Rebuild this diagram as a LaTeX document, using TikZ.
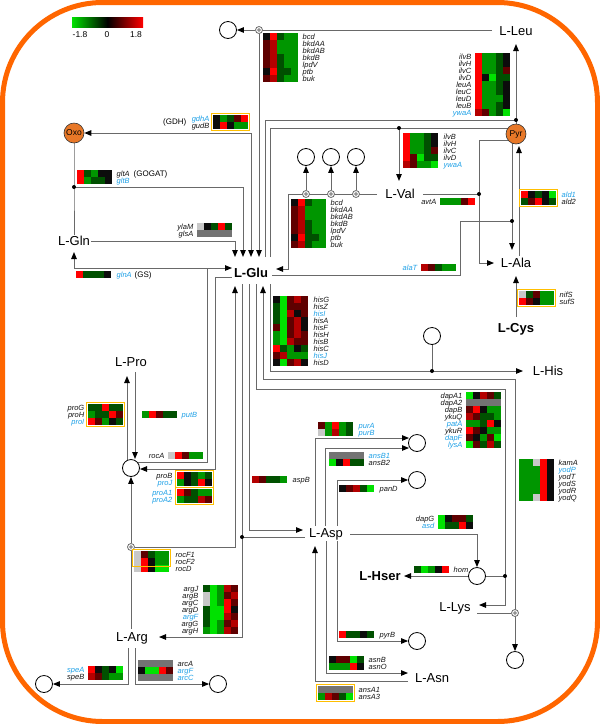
\documentclass[tikz,border=0pt]{standalone}
\usepackage{fontspec}
\setmainfont{Liberation Sans}
\usetikzlibrary{arrows.meta}
\pgfdeclarelayer{bg}
\pgfsetlayers{bg,main}
\definecolor{hcG}{RGB}{0,225,0}
\definecolor{hcg}{RGB}{0,150,0}
\definecolor{hcd}{RGB}{0,80,0}
\definecolor{hck}{RGB}{12,12,12}
\definecolor{hcm}{RGB}{95,0,0}
\definecolor{hcr}{RGB}{180,0,0}
\definecolor{hcR}{RGB}{255,0,0}
\definecolor{hcL}{RGB}{200,200,200}
\definecolor{hcD}{RGB}{115,115,115}
\definecolor{gck}{RGB}{20,20,20}
\definecolor{gcb}{RGB}{30,160,230}
\definecolor{frameor}{RGB}{255,102,0}
\definecolor{metor}{RGB}{232,120,40}
\definecolor{boxy}{RGB}{255,190,0}
\definecolor{lncol}{RGB}{105,105,105}
\newcommand\hmap[3]{%
  \foreach \hrow [count=\hri] in {#3}{%
    \foreach \hcell [count=\hcj] in \hrow{%
      \fill[fill=hc\hcell] ({#1+(\hcj-1)*7},{#2+(\hri-1)*7}) rectangle ++(7.05,7.05);
    }%
  }%
}
\newcommand\hlab[4]{%
  \foreach \glc/\glt [count=\gli] in {#4}{%
    \node[glab, text=gc\glc, anchor=#3] at (#1,{#2+(\gli-1)*7+3.5}) {\glt};
  }%
}
\tikzset{
  lnk/.style={draw=lncol, line width=1pt},
  arr/.style={lnk, -{Triangle[length=7pt,width=5.5pt,color=black]}},
  arrb/.style={lnk, {Triangle[length=7pt,width=5.5pt,color=black]}-{Triangle[length=7pt,width=5.5pt,color=black]}},
  mlab/.style={font=\fontsize{13}{15}\selectfont, text height=9.3pt, text depth=0pt, inner sep=1pt},
  blab/.style={font=\fontsize{13}{15}\selectfont\bfseries, text height=9.3pt, text depth=0pt, inner sep=1pt},
  glab/.style={font=\fontsize{7.5}{8}\selectfont\itshape, text height=5.4pt, text depth=0pt, inner sep=0.5pt},
  slab/.style={font=\fontsize{8}{9}\selectfont, text height=5.8pt, text depth=0pt, inner sep=0.5pt},
  circ/.style={circle, draw=black, fill=white, line width=0.8pt, minimum size=17pt, inner sep=0pt},
  metab/.style={circle, draw=black!80, fill=metor, line width=0.6pt, minimum size=20pt, inner sep=0pt, font=\fontsize{8.5}{9}\selectfont},
  junc/.style={circle, draw=lncol, fill=white, line width=0.8pt, minimum size=7pt, inner sep=0pt,
    path picture={\draw[lncol, line width=0.6pt] (path picture bounding box.center) circle (1.4pt);}},
  dotn/.style={circle, fill=black, minimum size=4pt, inner sep=0pt},
  ybox/.style={draw=boxy, line width=1.6pt},
}
\begin{document}
\begin{tikzpicture}[x=1pt,y=-1pt]
\useasboundingbox (0,0) rectangle (600,724);
\draw[frameor, line width=5pt, rounded corners=100pt] (2.5,2.5) rectangle (597.5,721.5);
% colour bar
\shade[left color=hcG, right color=hcR, middle color=black] (72,17) rectangle (143,27);
\node[slab, font=\fontsize{8.5}{9}\selectfont] (cb1) at (80,35) {-1.8};
\node[slab, font=\fontsize{8.5}{9}\selectfont] (cb2) at (107,35) {0};
\node[slab, font=\fontsize{8.5}{9}\selectfont] (cb3) at (136,35) {1.8};
% main metabolites
\node[mlab] (leu) at (516,31) {L-Leu};
\node[blab] (glu) at (251,273) {L-Glu};
\node[mlab] (gln) at (74,241) {L-Gln};
\node[mlab] (val) at (400,194) {L-Val};
\node[mlab] (ala) at (516,263) {L-Ala};
\node[blab] (cys) at (516,328) {L-Cys};
\node[mlab] (pro) at (131,362) {L-Pro};
\node[mlab] (his) at (548,371) {L-His};
\node[mlab] (asp) at (326,533) {L-Asp};
\node[blab] (hser) at (380,576) {L-Hser};
\node[mlab] (lys) at (455,607) {L-Lys};
\node[mlab] (arg) at (132,637) {L-Arg};
\node[mlab] (asn) at (432,678) {L-Asn};
\node[metab] (oxo) at (74,133) {Oxo};
\node[metab] (pyr) at (516,134) {Pyr};
% open circles
\node[circ] (c1) at (228,30) {};
\node[circ] (cv1) at (306,157) {};
\node[circ] (cv2) at (331,157) {};
\node[circ] (cv3) at (356,157) {};
\node[circ] (chis) at (432,336) {};
\node[circ] (cfum) at (417,443) {};
\node[circ] (cbal) at (417,480) {};
\node[circ] (chom) at (477,576) {};
\node[circ] (cpyr) at (417,641) {};
\node[circ] (clys) at (515,660) {};
\node[circ] (cpro) at (131,468) {};
\node[circ] (carc) at (218,684) {};
\node[circ] (cspe) at (44,684) {};
% junctions and dots
\node[junc] (j1) at (259,30) {};
\node[junc] (jv1) at (306,194) {};
\node[junc] (jv2) at (331,194) {};
\node[junc] (jv3) at (356,194) {};
\node[junc] (jlys) at (515,613) {};
\node[junc] (jarg) at (131,547) {};
\node[dotn] (d1) at (516,120) {};
\node[dotn] (d2) at (399,128) {};
\node[dotn] (d3) at (479,194) {};
\node[dotn] (d4) at (512,221) {};
\node[dotn] (d5) at (74,187) {};
\node[dotn] (d6) at (432,371) {};
\node[dotn] (d7) at (505,576) {};
\node[dotn] (d8) at (242,537) {};
\begin{pgfonlayer}{bg}
% Leu / top
\draw[lnk] (492,30) -- (j1.center);
\draw[arr] (j1) -- (c1);
\draw[arr] (j1) -- (259,257);
\draw[arrb] (oxo) -- (251,133) -- (251,257);
\draw[lnk] (oxo) -- (d5.center) -- (gln);
\draw[arr] (d5.center) -- (243,187) -- (243,257);
\draw[arr] (gln.east) -- (235,241) -- (235,257);
\draw[arr] (207,268) -- (74,268) -- (74,252);
\draw[arr] (131,462) -- (207,462) -- (207,268) -- (232,268);
\draw[arr] (232,277) -- (215,277) -- (215,469) -- (140,469);
\draw[arr] (jarg) -- (235,547) -- (235,286);
\draw[arr] (242,284) -- (242,637) -- (159,637);
\draw[lnk] (d8.center) -- (305,537);
\draw[arr] (249,284) -- (249,530) -- (303,530);
\draw[arr] (256,284) -- (256,389) -- (505,389) -- (505,605) -- (479,605);
\draw[arrb] (263,286) -- (263,379) -- (515,379) -- (clys);
\draw[arr] (270,284) -- (270,371) -- (523,371);
\draw[lnk] (d6.center) -- (chis);
\draw[lnk] (477,613) -- (jlys);
\draw[arr] (350,534) -- (477,534) -- (chom);
\draw[arr] (chom) -- (404,576);
\draw[lnk] (chom) -- (d7.center);
\draw[arr] (315,526) -- (315,438) -- (409,438);
\draw[arr] (325,526) -- (325,448) -- (409,448);
\draw[arr] (337,526) -- (337,480) -- (cbal);
\draw[arr] (326,541) -- (326,673) -- (408,673);
\draw[arr] (337,541) -- (337,641) -- (cpyr);
\draw[arr] (408,681) -- (315,681) -- (315,546);
% Val
\draw[arr] (377,194) -- (288,194) -- (288,269) -- (276,269);
\draw[arr] (jv1) -- (cv1);
\draw[arr] (jv2) -- (cv2);
\draw[arr] (jv3) -- (cv3);
\draw[lnk] (423,194) -- (d3.center);
\draw[arr] (510,140) -- (479,140) -- (479,263) -- (494,263);
\draw[arr] (510,128) -- (399,128) -- (399,181);
\draw[lnk] (270,257) -- (270,128) -- (d2.center);
\draw[lnk] (265,257) -- (265,120) -- (d1.center);
\draw[arr] (516,130) -- (516,44);
\draw[arr] (512,140) -- (512,250);
\draw[arr] (519,256) -- (519,146);
\draw[lnk] (272,275) -- (460,275) -- (460,221) -- (d4.center);
\draw[arr] (516,317) -- (516,276);
% Pro / Arg
\draw[arr] (127,462) -- (127,376);
\draw[arr] (135,372) -- (135,459);
\draw[arr] (jarg) -- (cpro);
\draw[lnk] (131,629) -- (jarg);
\draw[arr] (128,648) -- (128,684) -- (cspe);
\draw[arr] (135,648) -- (135,684) -- (carc);
\end{pgfonlayer}
% heat maps
\hmap{263}{33}{{k,R,d,g,g},{m,r,g,g,g},{m,r,g,g,g},{m,r,d,g,g},{m,r,d,g,g},{k,R,d,d,g},{m,r,d,g,g}}
\hlab{302}{33}{west}{k/bcd,k/bkdAA,k/bkdAB,k/bkdB,k/lpdV,k/ptb,k/buk}
\hmap{475}{53}{{R,g,g,d,k},{R,g,g,d,k},{R,g,g,d,m},{R,k,G,d,d},{R,g,g,d,k},{R,g,g,d,k},{R,g,g,g,k},{R,g,g,d,k},{r,m,g,d,G}}
\hlab{472}{53}{east}{k/ilvB,k/ilvH,k/ilvC,k/ilvD,k/leuA,k/leuC,k/leuD,k/leuB,b/ywaA}
\hmap{403}{133}{{R,g,g,d,k},{R,g,g,d,k},{R,g,g,d,m},{R,m,G,d,d},{r,m,g,g,G}}
\hlab{443}{133}{west}{k/ilvB,k/ilvH,k/ilvC,k/ilvD,b/ywaA}
\hmap{291}{199}{{k,R,d,g,g},{m,r,g,g,g},{m,r,g,g,g},{m,r,d,g,g},{m,r,d,g,g},{k,R,d,d,g},{m,r,d,g,g}}
\hlab{330}{199}{west}{k/bcd,k/bkdAA,k/bkdAB,k/bkdB,k/lpdV,k/ptb,k/buk}
\hmap{213}{115}{{k,g,d,m,R},{k,R,k,g,g}}
\draw[ybox] (211.5,113.5) rectangle (249.5,130.5);
\hlab{210}{115}{east}{b/gdhA,k/gudB}
\node[slab, anchor=east] (gdhlab) at (187,122) {(GDH)};
\hmap{77}{170}{{R,d,g,k,k},{R,g,d,d,k}}
\hlab{116}{170}{west}{k/gltA,b/gltB}
\node[slab, anchor=west] (gogatlab) at (133,173.5) {(GOGAT)};
\hmap{197}{223}{{L,k,d,R,d},{D,D,D,D,D}}
\hlab{194}{223}{east}{k/ylaM,k/glsA}
\hmap{76}{271}{{R,d,d,d,k}}
\hlab{116}{271}{west}{b/glnA}
\node[slab, anchor=west] (gslab) at (134,274.5) {(GS)};
\hmap{521}{191}{{R,k,d,k,G},{d,m,R,k,d}}
\draw[ybox] (519.5,189.5) rectangle (557.5,206.5);
\hlab{561}{191}{west}{b/ald1,k/ald2}
\hmap{440}{198}{{g,g,g,m,R}}
\hlab{437}{198}{east}{k/avtA}
\hmap{421}{264}{{r,m,d,g,g}}
\hlab{418}{264}{east}{b/alaT}
\hmap{519}{291}{{L,d,m,g,g},{R,m,k,g,g}}
\draw[ybox] (517.5,289.5) rectangle (555.5,306.5);
\hlab{559}{291}{west}{k/nifS,k/sufS}
\hmap{273}{296}{{k,G,m,r,m},{d,G,m,m,m},{d,G,r,k,m},{d,G,m,r,k},{m,G,m,r,k},{g,G,m,r,m},{g,G,r,m,m},{R,d,g,k,d},{m,r,g,g,g},{k,G,m,r,k}}
\hlab{313}{296}{west}{k/hisG,k/hisZ,b/hisI,k/hisA,k/hisF,k/hisH,k/hisB,k/hisC,b/hisJ,k/hisD}
\hmap{466}{392}{{G,k,r,m,d},{D,D,D,D,D},{m,R,k,g,g},{r,m,d,d,g},{g,g,d,R,k},{R,m,k,g,g},{m,k,g,m,G},{G,m,d,r,d}}
\hlab{463}{392}{east}{k/dapA1,k/dapA2,k/dapB,k/ykuQ,b/patA,k/ykuR,b/dapF,b/lysA}
\hmap{519}{459}{{g,g,L,R,k},{g,g,g,R,k},{g,g,g,R,k},{g,g,g,R,k},{g,g,g,R,k},{g,g,L,R,k}}
\hlab{558}{459}{west}{k/kamA,b/yodP,k/yodT,k/yodS,k/yodR,k/yodQ}
\hmap{318}{422}{{m,g,R,g,d},{L,g,r,g,d}}
\hlab{358}{422}{west}{b/purA,b/purB}
\hmap{329}{452}{{D,D,D,D,D},{G,k,R,d,d}}
\hlab{368}{452}{west}{b/ansB1,k/ansB2}
\hmap{339}{485}{{k,m,r,d,G}}
\hlab{379}{485}{west}{k/panD}
\hmap{252}{476}{{r,m,d,d,g}}
\hlab{292}{476}{west}{k/aspB}
\hmap{438}{515}{{G,k,m,m,d},{G,d,d,R,k}}
\hlab{435}{515}{east}{k/dapG,b/asd}
\hmap{414}{566}{{d,G,g,k,R}}
\hlab{453}{566}{west}{k/hom}
\hmap{339}{631}{{R,d,d,k,d}}
\hlab{379}{631}{west}{k/pyrB}
\hmap{329}{656}{{k,m,m,G,d},{g,g,g,R,k}}
\hlab{368}{656}{west}{k/asnB,k/asnO}
\hmap{318}{686}{{D,D,D,D,D},{g,r,m,d,G}}
\draw[ybox] (316.5,684.5) rectangle (354.5,701.5);
\hlab{358}{686}{west}{k/ansA1,k/ansA3}
\hmap{203}{585}{{d,G,g,r,m},{L,G,g,m,r},{L,G,g,R,m},{d,G,G,R,k},{d,G,G,r,m},{d,G,g,m,r},{g,G,g,r,m}}
\hlab{199}{585}{east}{k/argJ,k/argB,k/argC,k/argD,b/argF,k/argG,k/argH}
\hmap{134}{551}{{L,m,d,g,g},{L,R,k,g,g},{L,R,k,G,G}}
\draw[ybox] (132.5,549.5) rectangle (170.5,566.5);
\hlab{175}{551}{west}{k/rocF1,k/rocF2,k/rocD}
\hmap{138}{660}{{D,D,D,D,D},{k,G,G,R,m},{D,D,D,D,D}}
\hlab{177}{660}{west}{k/arcA,b/argF,b/arcC}
\hmap{88}{666}{{R,k,d,k,G},{r,m,d,g,g}}
\hlab{85}{666}{east}{b/speA,k/speB}
\hmap{88}{404}{{d,d,R,d,d},{g,d,d,R,m},{R,m,g,k,d}}
\draw[ybox] (86.5,402.5) rectangle (124.5,426.5);
\hlab{85}{404}{east}{k/proG,k/proH,b/proI}
\hmap{142}{411}{{g,R,m,d,d}}
\hlab{181}{411}{west}{b/putB}
\hmap{168}{452}{{L,R,m,g,g}}
\hlab{165}{452}{east}{k/rocA}
\hmap{177}{472}{{R,k,d,g,d},{g,k,d,R,k}}
\draw[ybox] (175.5,470.5) rectangle (213.5,487.5);
\hmap{177}{489}{{R,m,d,g,g},{g,d,d,r,m}}
\draw[ybox] (175.5,487.5) rectangle (213.5,504.5);
\hlab{173}{472}{east}{k/proB,b/proJ}
\hlab{173}{489}{east}{b/proA1,b/proA2}
\end{tikzpicture}
\end{document}
